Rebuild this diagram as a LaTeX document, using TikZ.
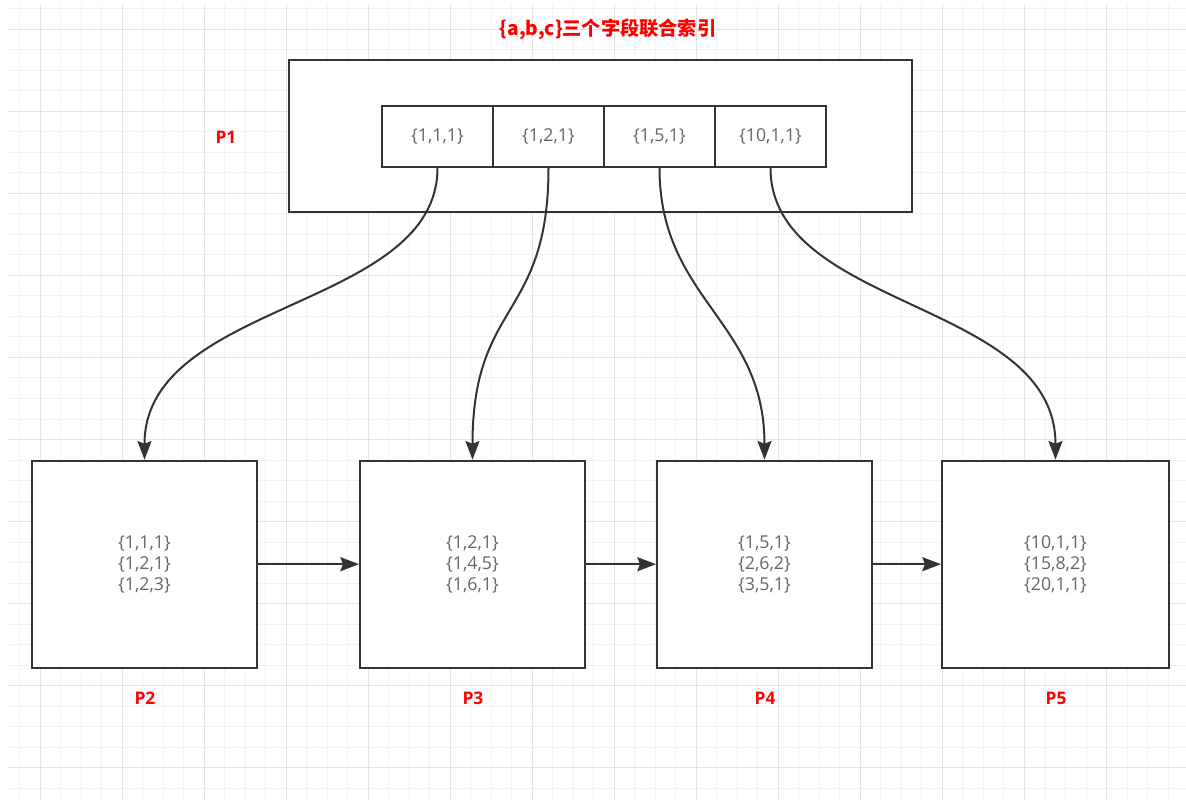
\documentclass[tikz,border=0pt]{standalone}
\usepackage{fontspec}
\setmainfont{Open Sans}
\newfontfamily\cjk{Noto Sans CJK SC}
\usetikzlibrary{arrows.meta}
\definecolor{edge}{HTML}{333333}
\definecolor{txt}{HTML}{666666}
\definecolor{gminor}{HTML}{F2F2F2}
\definecolor{gmajor}{HTML}{E4E4E4}
\begin{document}
\begin{tikzpicture}[x=0.75pt,y=-0.75pt,
  box/.style={draw=edge,line width=1.5pt,fill=white,inner sep=0pt,align=center,text=txt,font=\fontsize{13.3}{15.75}\selectfont},
  lbl/.style={text=red,font=\bfseries\fontsize{13}{15}\selectfont},
  arr/.style={draw=edge,line width=1.5pt,-{Stealth[length=14pt,width=10.5pt,inset=2pt]}}]
\useasboundingbox (0,0) rectangle (1186,800);
\fill[white] (0,0) rectangle (1186,800);
% grid
\foreach \i in {0,...,56}{\draw[gminor,line width=0.75pt] ({19.5+20.51*\i},4) -- ({19.5+20.51*\i},800);}
\foreach \j in {0,...,38}{\draw[gminor,line width=0.75pt] (8,{8.8+20.51*\j}) -- (1186,{8.8+20.51*\j});}
\foreach \i in {0,...,13}{\draw[gmajor,line width=0.75pt] ({40+82.05*\i},4) -- ({40+82.05*\i},800);}
\foreach \j in {0,...,9}{\draw[gmajor,line width=0.75pt] (8,{29.3+82.05*\j}) -- (1186,{29.3+82.05*\j});}

% title
\node[text=red,font=\cjk\bfseries\fontsize{14.4}{16}\selectfont] (T) at (608,29.3) {\{a,b,c\}三个字段联合索引};

% P1
\node[box,minimum width=467.25pt,minimum height=114pt] (P1) at (600.5,136) {};
\node[box,minimum width=83.25pt,minimum height=45.75pt] (c1) at (437.5,136.2) {\{1,1,1\}};
\node[box,minimum width=83.25pt,minimum height=45.75pt] (c2) at (548.5,136.2) {\{1,2,1\}};
\node[box,minimum width=83.25pt,minimum height=45.75pt] (c3) at (659.5,136.2) {\{1,5,1\}};
\node[box,minimum width=83.25pt,minimum height=45.75pt] (c4) at (770.5,136.2) {\{10,1,1\}};
\node[lbl] (L1) at (226,137) {P1};

% leaves
\node[box,minimum width=168.75pt,minimum height=155.25pt] (P2) at (144.5,564.2) {\{1,1,1\}\\\{1,2,1\}\\\{1,2,3\}};
\node[box,minimum width=168.75pt,minimum height=155.25pt] (P3) at (472.5,564.2) {\{1,2,1\}\\\{1,4,5\}\\\{1,6,1\}};
\node[box,minimum width=161.25pt,minimum height=155.25pt] (P4) at (764.5,564.2) {\{1,5,1\}\\\{2,6,2\}\\\{3,5,1\}};
\node[box,minimum width=170.25pt,minimum height=155.25pt] (P5) at (1055.5,564.2) {\{10,1,1\}\\\{15,8,2\}\\\{20,1,1\}};
\node[lbl] (L2) at (145,698) {P2};
\node[lbl] (L3) at (473,698) {P3};
\node[lbl] (L4) at (765,698) {P4};
\node[lbl] (L5) at (1056,698) {P5};

% connectors
\draw[arr] (c1.south) .. controls (437.5,310) and (144.5,300) .. (P2.north);
\draw[arr] (c2.south) .. controls (548.5,320) and (472.5,300) .. (P3.north);
\draw[arr] (c3.south) .. controls (659.5,300) and (764.5,320) .. (P4.north);
\draw[arr] (c4.south) .. controls (770.5,310) and (1055.5,300) .. (P5.north);
\draw[arr] (P2.east) -- (P3.west);
\draw[arr] (P3.east) -- (P4.west);
\draw[arr] (P4.east) -- (P5.west);
\end{tikzpicture}
\end{document}
